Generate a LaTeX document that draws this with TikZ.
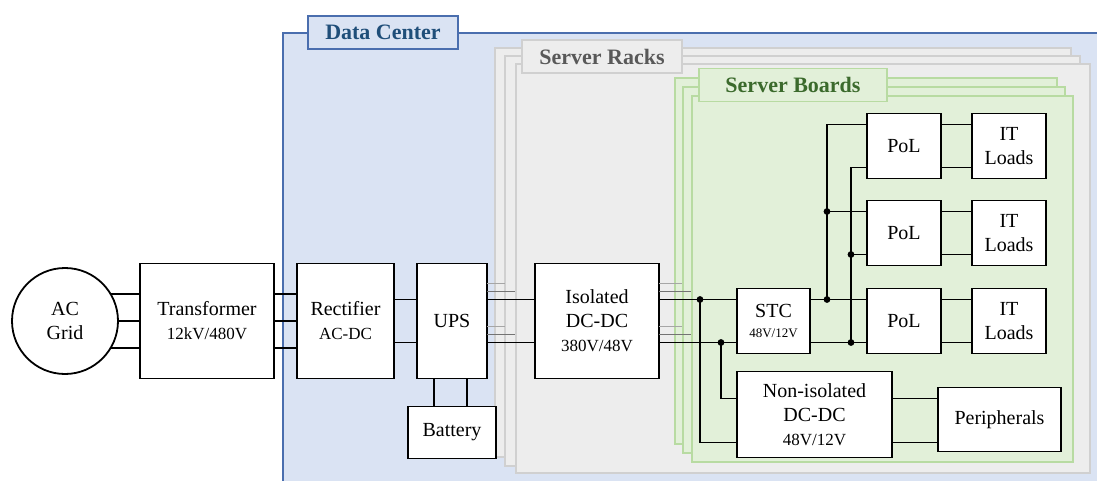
\documentclass[tikz,border=0pt]{standalone}
\usepackage{fontspec}
\setmainfont{Liberation Serif}
\usetikzlibrary{positioning,calc}

\definecolor{dcfill}{HTML}{DAE3F3}
\definecolor{dcline}{HTML}{4A6EAE}
\definecolor{dctext}{HTML}{1F4E79}
\definecolor{rkfill}{HTML}{EDEDED}
\definecolor{rkline}{HTML}{D0D0D0}
\definecolor{rktext}{HTML}{595959}
\definecolor{bdfill}{HTML}{E2F0D9}
\definecolor{bdline}{HTML}{B8DBA2}
\definecolor{bdtext}{HTML}{3B6A2C}

\newcommand{\subtxt}{\fontsize{8.5}{10}\selectfont}

\tikzset{
  block/.style={draw, fill=white, line width=0.9pt, align=center, inner sep=1pt,
    outer sep=0pt, font=\fontsize{10}{12}\selectfont},
  wire/.style={line width=0.9pt},
  stubl/.style={line width=0.9pt, draw=black!35},
  stubd/.style={line width=0.9pt, draw=black!55},
  tab/.style={draw, line width=0.8pt, minimum height=16.5pt, inner sep=0pt,
    font=\bfseries\fontsize{11}{13}\selectfont},
}

\begin{document}
\begin{tikzpicture}[x=0.5pt, y=-0.5pt]
  \useasboundingbox (0,0) rectangle (1097,481);

  % data center
  \fill[dcfill] (283,33) rectangle (1097,481);
  \draw[dcline, line width=1pt] (283,481) -- (283,33) -- (1097,33);
  \node[tab, draw=dcline, fill=dcfill, text=dctext, minimum width=75pt] (dctab) at (383,32.5) {Data Center};

  % server racks
  \foreach \xa/\ya/\xb/\yb in {495/48/1071/457, 505/56/1080/466, 516/64/1090/473}
    \draw[rkline, fill=rkfill, line width=1pt] (\xa,\ya) rectangle (\xb,\yb);
  \node[tab, draw=rkline, fill=rkfill, text=rktext, minimum width=80pt] (racktab) at (602,56.5) {Server Racks};

  % server boards
  \foreach \xa/\ya/\xb/\yb in {675/78/1057/444, 683/87/1065/453, 692/96/1073/462}
    \draw[bdline, fill=bdfill, line width=1pt] (\xa,\ya) rectangle (\xb,\yb);
  \node[tab, draw=bdline, fill=bdfill, text=bdtext, minimum width=94pt] (boardtab) at (793,85) {Server Boards};

  % main chain
  \node[block, circle, minimum size=53pt] (grid) at (65,321) {AC\\Grid};
  \node[block, minimum width=67pt, minimum height=57.5pt, right=11pt of grid] (trans) {Transformer\\{\subtxt 12kV/480V}};
  \node[block, minimum width=48.5pt, minimum height=57.5pt, right=11.5pt of trans] (rect) {Rectifier\\{\subtxt AC-DC}};
  \node[block, minimum width=35pt, minimum height=57.5pt, right=11.5pt of rect] (ups) {UPS};
  \node[block, minimum width=44pt, minimum height=26pt, below=14pt of ups] (battery) {Battery};
  \node[block, minimum width=62pt, minimum height=57.5pt, right=24pt of ups] (iso) {Isolated\\DC-DC\\{\subtxt 380V/48V}};

  % board level
  \node[block, minimum width=36.5pt, minimum height=32.5pt, right=39pt of iso] (stc) {STC\\[-2pt]{\fontsize{6.5}{7}\selectfont 48V/12V}};
  \node[block, minimum width=37pt, minimum height=32.5pt, right=28.5pt of stc] (pol3) {PoL};
  \node[block, minimum width=37pt, minimum height=32.5pt, above=11.5pt of pol3] (pol2) {PoL};
  \node[block, minimum width=37pt, minimum height=32.5pt, above=11pt of pol2] (pol1) {PoL};
  \foreach \i in {1,2,3}
    \node[block, minimum width=37pt, minimum height=32.5pt, right=15.5pt of pol\i] (it\i) {IT\\Loads};
  \node[block, minimum width=77.5pt, minimum height=43pt, below=9pt of stc.south west, anchor=north west] (noniso) {Non-isolated\\DC-DC\\{\subtxt 48V/12V}};
  \node[block, minimum width=61.5pt, minimum height=32pt, right=23pt of noniso, yshift=-2.5pt] (periph) {Peripherals};

  % ac side
  \foreach \a in {31,0,-31} {
    \draw[wire] (grid.\a) -- (trans.west |- grid.\a);
    \draw[wire] (trans.east |- grid.\a) -- (rect.west |- grid.\a);
  }

  % dc bus
  \coordinate (hi) at ($(iso.east)+(0,-21.5)$);
  \coordinate (lo) at ($(iso.east)+(0,21.5)$);
  \foreach \lv in {hi,lo} {
    \draw[wire] (rect.east |- \lv) -- (ups.west |- \lv);
    \draw[wire] (ups.east |- \lv) -- (iso.west |- \lv);
    \draw[wire] (iso.east |- \lv) -- (stc.west |- \lv);
    \draw[stubl] ($(ups.east |- \lv)+(0,-16)$) -- ($(ups.east |- \lv)+(18,-16)$);
    \draw[stubd] ($(ups.east |- \lv)+(0,-8)$) -- ($(ups.east |- \lv)+(28,-8)$);
    \draw[stubl] ($(iso.east |- \lv)+(0,-16)$) -- ($(iso.east |- \lv)+(23,-16)$);
    \draw[stubd] ($(iso.east |- \lv)+(0,-8)$) -- ($(iso.east |- \lv)+(32,-8)$);
  }
  \foreach \dx in {-18,15}
    \draw[wire] ($(ups.south)+(\dx,0)$) coordinate (u) -- (u |- battery.north);

  % non-isolated branch
  \coordinate (ja) at ($(iso.east |- hi)+(41,0)$);
  \coordinate (jb) at ($(iso.east |- lo)+(62,0)$);
  \coordinate (nh) at ($(noniso.west)+(0,-16)$);
  \coordinate (nl) at ($(noniso.west)+(0,28)$);
  \draw[wire] (ja) |- (nl);
  \draw[wire] (jb) |- (nh);
  \draw[wire] (noniso.east |- nh) -- (periph.west |- nh);
  \draw[wire] (noniso.east |- nl) -- (periph.west |- nl);

  % pol branches
  \foreach \i in {1,2,3} {
    \coordinate (ph\i) at ($(pol\i.west)+(0,-21.5)$);
    \coordinate (pl\i) at ($(pol\i.west)+(0,21.5)$);
    \draw[wire] (pol\i.east |- ph\i) -- (it\i.west |- ph\i);
    \draw[wire] (pol\i.east |- pl\i) -- (it\i.west |- pl\i);
  }
  \coordinate (jc) at ($(stc.east |- hi)+(17,0)$);
  \coordinate (jd) at ($(stc.east |- lo)+(41,0)$);
  \draw[wire] (stc.east |- hi) -- (ph3);
  \draw[wire] (stc.east |- lo) -- (pl3);
  \draw[wire] (jc) |- (ph1);
  \draw[wire] (jc |- ph2) -- (ph2);
  \draw[wire] (jd) |- (pl1);
  \draw[wire] (jd |- pl2) -- (pl2);

  % junction dots
  \foreach \p in {ja, jb, jc, jd}
    \fill (\p) circle (1.7pt);
  \fill (jc |- ph2) circle (1.7pt);
  \fill (jd |- pl2) circle (1.7pt);
\end{tikzpicture}
\end{document}
